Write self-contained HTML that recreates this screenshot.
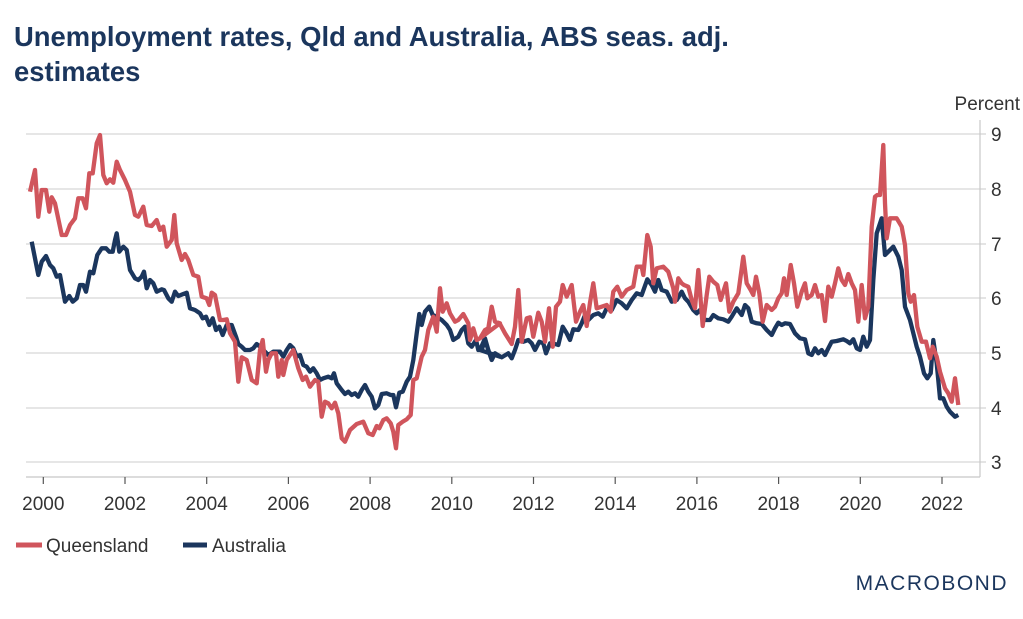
<!DOCTYPE html>
<html><head><meta charset="utf-8"><style>
body{margin:0;background:#fff;width:1023px;height:614px;overflow:hidden;font-family:"Liberation Sans",Arial,sans-serif}
</style></head><body>
<svg id="s" width="1023" height="614" xmlns="http://www.w3.org/2000/svg" font-family="Liberation Sans, Arial, sans-serif">
<text x="14" y="46" font-size="27.4" font-weight="bold" fill="#1b365d">Unemployment rates, Qld and Australia, ABS seas. adj.</text>
<text x="14" y="81" font-size="27.4" font-weight="bold" fill="#1b365d">estimates</text>
<text x="1020" y="110" font-size="19" fill="#333" text-anchor="end">Percent</text>
<g stroke="#d6d6d6" stroke-width="1.2">
<line x1="26" x2="980" y1="134" y2="134"/><line x1="26" x2="980" y1="189" y2="189"/><line x1="26" x2="980" y1="244" y2="244"/><line x1="26" x2="980" y1="298" y2="298"/><line x1="26" x2="980" y1="353" y2="353"/><line x1="26" x2="980" y1="408" y2="408"/><line x1="26" x2="980" y1="462" y2="462"/>
<line x1="26" x2="980" y1="477" y2="477" stroke="#c8c8c8"/><line x1="980" x2="980" y1="120" y2="477" stroke="#c8c8c8"/>
</g>
<g stroke="#c8c8c8" stroke-width="1"><line x1="980" x2="986" y1="134" y2="134"/><line x1="980" x2="986" y1="189" y2="189"/><line x1="980" x2="986" y1="244" y2="244"/><line x1="980" x2="986" y1="298" y2="298"/><line x1="980" x2="986" y1="353" y2="353"/><line x1="980" x2="986" y1="408" y2="408"/><line x1="980" x2="986" y1="462" y2="462"/></g>
<g font-size="19" fill="#333">
<text x="991" y="141">9</text><text x="991" y="196">8</text><text x="991" y="251">7</text><text x="991" y="305">6</text><text x="991" y="360">5</text><text x="991" y="415">4</text><text x="991" y="469">3</text>
</g>
<g id="ticks" stroke="#555" stroke-width="1.2"></g>
<g id="xl" font-size="19" fill="#333" text-anchor="middle"></g>
<polyline id="au" fill="none" stroke="#1b365d" stroke-width="4.3" stroke-linejoin="round"/>
<polyline id="qld" fill="none" stroke="#d0555c" stroke-width="4.3" stroke-linejoin="round"/>
<line x1="16" x2="42" y1="545" y2="545" stroke="#d0555c" stroke-width="5"/>
<text x="46" y="552" font-size="19" fill="#333">Queensland</text>
<line x1="183" x2="207" y1="545" y2="545" stroke="#1b365d" stroke-width="5"/>
<text x="212" y="552" font-size="19" fill="#333">Australia</text>
<text x="1008" y="590" font-size="21" fill="#1b365d" text-anchor="end" letter-spacing="1.5">MACROBOND</text>
</svg>
<script>
var ns="http://www.w3.org/2000/svg";
var t=document.getElementById("ticks"),xl=document.getElementById("xl");
for(var i=0;i<12;i++){var x=43.3+i*81.7;var l=document.createElementNS(ns,"line");l.setAttribute("x1",x);l.setAttribute("x2",x);l.setAttribute("y1",477);l.setAttribute("y2",484);t.appendChild(l);
var tx=document.createElementNS(ns,"text");tx.setAttribute("x",x);tx.setAttribute("y",510);tx.textContent=2000+2*i;xl.appendChild(tx);}
function conv(a,ox,oy){var r=[];for(var i=0;i<a.length;i+=2)r.push((ox+a[i]/3).toFixed(1)+","+(oy+a[i+1]/3).toFixed(1));return r;}
var q1=[30,215,45,150,55,290,65,210,78,210,88,275,95,232,105,250,125,345,138,345,150,315,165,295,175,235,188,235,198,265,208,160,218,160,230,70,240,45,250,165,260,190,270,178,280,188,290,125,300,150,315,180,330,215,345,285,355,290,370,260,380,315,395,318,410,300,420,330,430,320,440,380,455,360,463,285,470,370,485,420,495,402,505,420,520,465,535,470,545,530,560,535,568,555,575,518,585,525,600,600,610,600,620,598,630,640,645,665,655,785,665,712,680,720,695,780,710,790,720,690,728,660,738,755,745,720,755,700,768,700,775,770,785,720,790,765,800,720,820,690,835,745,848,780,858,770,870,800,885,780,895,785,905,890,915,845,925,850,935,865,945,848,955,880,965,955,975,965,990,930,1010,912,1030,905,1045,940,1058,945,1070,918,1078,925,1090,900,1100,895,1112,910,1120,935,1128,985,1135,915,1148,905,1160,898,1172,885,1180,780,1190,775,1205,710,1215,690,1225,630,1240,590,1250,635,1260,505,1268,575,1280,550,1290,580,1305,605,1315,600,1330,582,1345,610,1350,660,1360,625,1370,660,1380,655,1395,630,1405,625,1415,560,1425,605,1440,610];
var q2=[0,655,15,630,25,628,35,560,45,605,60,612,75,640,95,672,105,620,115,510,125,665,140,595,150,592,160,650,175,578,185,605,195,665,207,565,218,680,228,560,240,545,248,495,260,530,275,495,288,605,300,575,310,555,320,618,330,548,340,490,350,565,365,560,380,555,392,575,400,515,412,500,425,530,440,510,460,500,470,440,485,440,490,465,502,345,512,380,520,490,530,445,550,440,565,455,580,505,585,545,595,475,605,490,612,495,625,500,635,540,645,565,655,450,668,618,680,525,688,470,700,485,712,495,722,540,738,490,748,575,760,545,775,520,790,410,800,490,812,510,820,525,828,470,838,520,848,605,860,555,875,570,885,560,895,535,905,520,912,475,920,525,932,435,942,490,952,560,965,515,975,490,982,535,995,525,1005,495,1015,530,1025,525,1035,603,1045,500,1055,530,1065,490,1075,445,1085,480,1095,495,1105,462,1115,490,1125,510,1135,605,1145,495,1155,595,1165,560,1175,320,1185,230,1192,225,1200,225,1210,75,1215,250,1220,355,1230,295,1250,295,1265,320,1275,375,1285,520,1292,545,1302,525,1312,620,1325,665,1338,665,1350,715,1358,680,1370,710,1380,755,1395,805,1405,820,1415,845,1425,775,1435,855];
var a1=[35,365,55,465,65,425,78,408,90,435,100,445,110,470,120,465,135,545,148,528,158,545,170,535,180,495,190,495,198,515,210,455,220,460,232,405,245,385,258,385,268,395,278,395,285,360,290,340,298,395,310,380,320,390,330,450,345,475,355,480,365,470,372,455,380,505,390,480,400,490,410,515,425,508,432,510,445,535,455,545,465,515,475,528,490,522,500,518,510,565,525,570,540,580,548,595,558,590,568,615,578,595,588,630,598,620,608,645,620,615,635,615,648,650,655,672,665,680,675,690,690,690,700,685,710,672,720,680,730,690,745,705,760,695,780,695,790,710,800,690,810,675,820,685,830,710,840,705,850,735,860,740,870,755,880,745,890,760,900,780,910,775,925,770,935,775,942,760,950,790,965,810,975,822,985,815,995,825,1005,820,1015,830,1025,810,1035,795,1045,815,1055,830,1065,865,1075,855,1085,822,1100,820,1112,825,1120,825,1128,862,1138,818,1148,815,1160,785,1170,770,1180,720,1190,640,1198,582,1205,615,1215,575,1228,560,1238,585,1250,590,1265,600,1280,615,1290,630,1300,660,1315,650,1325,630,1335,620,1345,670,1355,680,1368,660,1375,690,1385,690,1395,660,1405,690,1415,718,1425,700,1440,710];
var a2=[0,690,15,655,25,690,35,720,45,700,65,712,85,700,95,715,105,690,115,660,130,665,145,660,155,670,165,690,178,665,190,670,198,700,210,670,225,672,235,675,248,620,260,640,270,660,280,628,295,630,305,610,315,585,325,600,340,585,355,580,368,590,380,565,395,570,410,540,425,550,440,565,455,540,470,520,485,525,502,478,515,495,525,515,535,480,545,510,560,515,575,545,590,540,605,515,615,535,625,545,640,570,650,580,660,570,675,600,690,600,700,585,715,595,730,598,745,605,755,590,770,565,785,585,795,555,805,565,815,605,830,610,845,612,860,630,875,645,885,625,895,608,905,615,915,610,930,612,945,640,960,655,975,658,985,700,995,705,1005,685,1015,700,1025,690,1035,705,1045,685,1055,665,1070,663,1090,658,1100,663,1110,670,1120,658,1130,685,1140,690,1150,650,1160,680,1170,660,1180,480,1190,340,1205,295,1215,405,1225,395,1240,380,1255,410,1265,450,1275,560,1290,600,1310,680,1320,710,1332,760,1342,775,1352,760,1360,660,1370,730,1380,835,1390,835,1400,860,1410,875,1425,890,1435,885];
document.getElementById("qld").setAttribute("points",conv(q1,20,120).concat(conv(q2,480,120)).join(" "));
document.getElementById("au").setAttribute("points",conv(a1,20,120).concat(conv(a2,480,120)).join(" "));
</script>
</body></html>
